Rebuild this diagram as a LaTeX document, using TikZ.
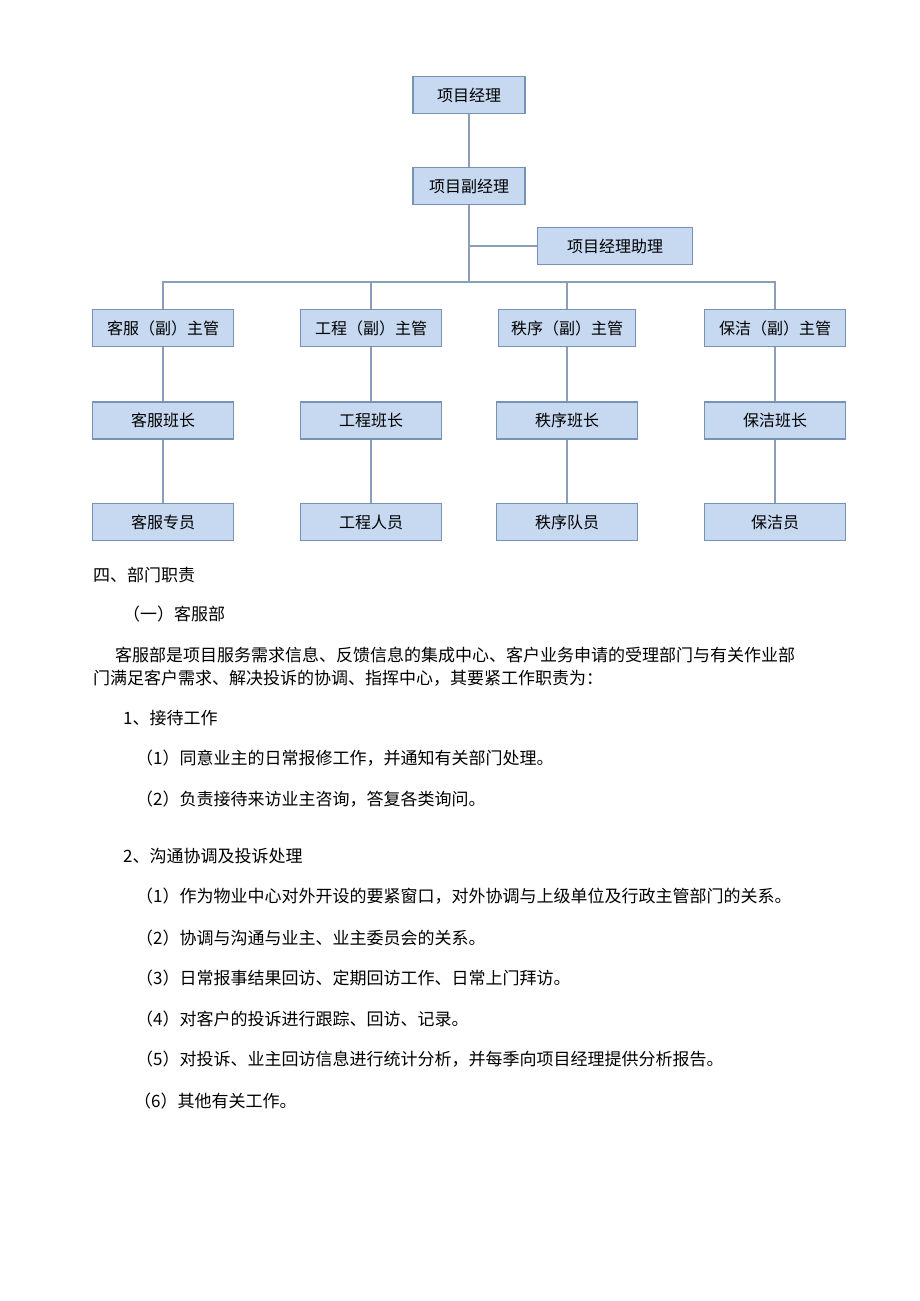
\documentclass[tikz,border=0pt]{standalone}
\usepackage{fontspec}
\setmainfont{Noto Sans CJK SC}
\usepackage{tikz}
\definecolor{boxfill}{RGB}{198,217,241}
\definecolor{boxline}{RGB}{118,146,181}
\definecolor{linkline}{RGB}{138,158,182}

\begin{document}
\begin{tikzpicture}[x=1pt,y=-1pt,
	post/.style={draw=boxline, fill=boxfill, line width=1.8pt, minimum width=141pt, minimum height=37pt, inner sep=0pt, font=\fontsize{16}{16}\selectfont},
	link/.style={draw=linkline, line width=1.4pt},
	txt/.style={anchor=west, inner sep=0pt, font=\fontsize{17}{17}\selectfont}]
	\useasboundingbox (0,0) rectangle (920,1301);

	% chart
	\node[post, minimum width=112pt] (pm) at (469,95) {项目经理};
	\node[post, minimum width=112pt] (vpm) at (469,186) {项目副经理};
	\node[post, minimum width=155pt] (asst) at (615,246) {项目经理助理};
	\coordinate (bus) at (469,282);

	\node[post] (kf1) at (163,328) {客服（副）主管};
	\node[post] (gc1) at (371,328) {工程（副）主管};
	\node[post, minimum width=137pt] (zx1) at (567,328) {秩序（副）主管};
	\node[post] (bj1) at (775,328) {保洁（副）主管};

	\node[post] (kf2) at (163,420.5) {客服班长};
	\node[post] (gc2) at (371,420.5) {工程班长};
	\node[post] (zx2) at (567,420.5) {秩序班长};
	\node[post] (bj2) at (775,420.5) {保洁班长};

	\node[post] (kf3) at (163,522) {客服专员};
	\node[post] (gc3) at (371,522) {工程人员};
	\node[post] (zx3) at (567,522) {秩序队员};
	\node[post] (bj3) at (775,522) {保洁员};

	\draw[link] (pm) -- (vpm);
	\draw[link] (vpm) -- (bus);
	\draw[link] (asst.west) -- (asst.west -| vpm);
	\draw[link] (kf1.north) -- (kf1.north |- bus) -- (bj1.north |- bus) -- (bj1.north);
	\draw[link] (gc1.north) -- (gc1.north |- bus);
	\draw[link] (zx1.north) -- (zx1.north |- bus);
	\foreach \d in {kf,gc,zx,bj}
		\draw[link] (\d1) -- (\d2) (\d2) -- (\d3);

	% text
	\node[txt] (h4) at (93,575) {四、部门职责};
	\node[txt] (h41) at (123,614) {（一）客服部};
	\node[txt] (p1) at (115,655) {客服部是项目服务需求信息、反馈信息的集成中心、客户业务申请的受理部门与有关作业部};
	\node[txt] (p2) at (93,678) {门满足客户需求、解决投诉的协调、指挥中心，其要紧工作职责为：};
	\node[txt] (s1) at (123,718) {1、接待工作};
	\node[txt] (s11) at (136,758) {（1）同意业主的日常报修工作，并通知有关部门处理。};
	\node[txt] (s12) at (136,799) {（2）负责接待来访业主咨询，答复各类询问。};
	\node[txt] (s2) at (123,856) {2、沟通协调及投诉处理};
	\node[txt] (s21) at (136,896) {（1）作为物业中心对外开设的要紧窗口，对外协调与上级单位及行政主管部门的关系。};
	\node[txt] (s22) at (136,938) {（2）协调与沟通与业主、业主委员会的关系。};
	\node[txt] (s23) at (136,978) {（3）日常报事结果回访、定期回访工作、日常上门拜访。};
	\node[txt] (s24) at (136,1019) {（4）对客户的投诉进行跟踪、回访、记录。};
	\node[txt] (s25) at (136,1059) {（5）对投诉、业主回访信息进行统计分析，并每季向项目经理提供分析报告。};
	\node[txt] (s26) at (134,1101) {（6）其他有关工作。};

\end{tikzpicture}
\end{document}
